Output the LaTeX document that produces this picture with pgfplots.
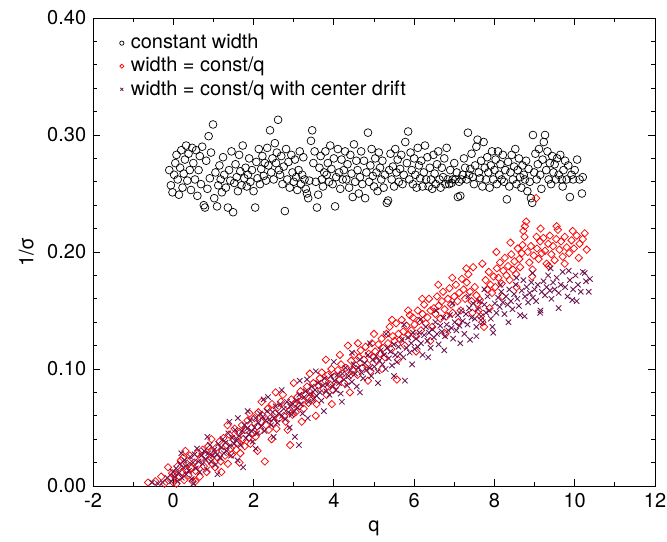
\documentclass[border=0pt]{standalone}
\usepackage{fontspec}
\setmainfont{TeX Gyre Heros}
\usepackage{pgfplots}
\pgfplotsset{compat=1.18}
\definecolor{drift}{rgb}{0.42,0.08,0.32}
\begin{document}
\fontsize{20bp}{24bp}\selectfont
\begin{tikzpicture}
\begin{axis}[
  scale only axis, width=562bp, height=468bp,
  xmin=-2, xmax=12, ymin=0, ymax=0.4,
  xtick={-2,0,2,4,6,8,10,12}, ytick={0,0.1,0.2,0.3,0.4},
  minor x tick num=1, minor y tick num=4,
  tick align=inside, major tick length=7bp, minor tick length=4bp,
  /pgf/number format/assume math mode=true,
  yticklabel style={/pgf/number format/.cd, fixed, fixed zerofill, precision=2},
  tick label style={font=\fontsize{20bp}{24bp}\selectfont},
  label style={font=\fontsize{20bp}{24bp}\selectfont},
  xlabel={q}, ylabel={1/σ},
  axis line style={line width=0.9bp},
  every tick/.style={line width=0.8bp, black},
  legend style={draw=none, fill=none, at={(0.0385,0.974)}, anchor=north west,
    font=\fontsize{20bp}{24bp}\selectfont, row sep=1.5bp},
  legend cell align=left,
  legend image code/.code={\path[draw=none, fill=none] (-4bp,0bp) rectangle (7bp,0bp);
    \draw[#1, only marks, every mark/.append style={scale=0.55}] plot coordinates {(0bp,0bp)};},
]
\addplot[only marks, mark=o, mark size=3.9bp, black, mark options={line width=0.7bp}] coordinates {
(-0.10,0.270) (-0.06,0.257) (-0.02,0.251) (0.02,0.266) (0.05,0.276) (0.08,0.283) (0.11,0.262) (0.14,0.249) (0.17,0.272) (0.20,0.287)
(0.23,0.255) (0.26,0.267) (0.29,0.279) (0.32,0.291) (0.35,0.261) (0.38,0.284) (0.41,0.270) (0.44,0.253) (0.47,0.289) (0.50,0.276)
(0.54,0.262) (0.57,0.287) (0.60,0.248) (0.63,0.270) (0.66,0.282) (0.69,0.258) (0.72,0.290) (0.76,0.240) (0.79,0.238) (0.82,0.278)
(0.85,0.254) (0.88,0.299) (0.91,0.263) (0.94,0.285) (0.99,0.309) (1.02,0.246) (1.05,0.268) (1.09,0.239) (1.12,0.257) (1.15,0.274)
(1.18,0.262) (1.21,0.251) (1.24,0.281) (1.27,0.266) (1.31,0.255) (1.36,0.238) (1.39,0.270) (1.42,0.261) (1.45,0.286) (1.49,0.234)
(1.52,0.259) (1.55,0.275) (1.58,0.264) (1.61,0.252) (1.64,0.283) (1.67,0.269) (1.70,0.257) (1.73,0.291) (1.77,0.263) (1.80,0.272)
(1.83,0.256) (1.86,0.266) (1.89,0.280) (1.92,0.260) (1.96,0.270) (2.00,0.252) (2.04,0.238) (2.07,0.277) (2.10,0.263) (2.13,0.288)
(2.16,0.258) (2.19,0.271) (2.22,0.282) (2.25,0.265) (2.28,0.276) (2.31,0.261) (2.34,0.289) (2.37,0.274) (2.41,0.304) (2.44,0.268)
(2.47,0.280) (2.50,0.262) (2.53,0.293) (2.56,0.276) (2.58,0.285) (2.61,0.313) (2.63,0.270) (2.66,0.266) (2.69,0.282) (2.72,0.258)
(2.75,0.273) (2.78,0.235) (2.81,0.288) (2.84,0.262) (2.87,0.277) (2.90,0.255) (2.94,0.283) (2.97,0.268) (3.00,0.260) (3.03,0.279)
(3.06,0.264) (3.09,0.253) (3.12,0.270) (3.15,0.286) (3.18,0.258) (3.21,0.266) (3.24,0.281) (3.27,0.262) (3.30,0.254) (3.33,0.250)
(3.36,0.246) (3.39,0.261) (3.43,0.295) (3.46,0.304) (3.49,0.276) (3.52,0.286) (3.55,0.260) (3.58,0.238) (3.61,0.249) (3.64,0.272)
(3.67,0.282) (3.70,0.262) (3.73,0.256) (3.76,0.268) (3.79,0.286) (3.82,0.266) (3.85,0.276) (3.88,0.260) (3.91,0.291) (3.94,0.271)
(3.97,0.258) (4.00,0.280) (4.03,0.239) (4.06,0.264) (4.10,0.288) (4.13,0.268) (4.16,0.254) (4.19,0.279) (4.22,0.262) (4.25,0.270)
(4.28,0.286) (4.31,0.262) (4.34,0.275) (4.38,0.255) (4.41,0.283) (4.44,0.267) (4.47,0.247) (4.50,0.292) (4.53,0.260) (4.56,0.278)
(4.59,0.270) (4.62,0.250) (4.65,0.264) (4.68,0.286) (4.71,0.258) (4.75,0.278) (4.78,0.246) (4.81,0.268) (4.85,0.302) (4.88,0.260)
(4.91,0.274) (4.94,0.288) (4.97,0.265) (5.00,0.256) (5.03,0.280) (5.06,0.268) (5.09,0.252) (5.12,0.285) (5.15,0.272) (5.18,0.262)
(5.21,0.278) (5.24,0.255) (5.27,0.266) (5.32,0.242) (5.35,0.244) (5.38,0.270) (5.41,0.284) (5.44,0.262) (5.47,0.273) (5.50,0.256)
(5.53,0.288) (5.56,0.268) (5.59,0.279) (5.62,0.260) (5.65,0.271) (5.68,0.283) (5.71,0.258) (5.74,0.266) (5.78,0.294) (5.82,0.276)
(5.85,0.303) (5.88,0.262) (5.91,0.285) (5.94,0.270) (5.97,0.258) (6.00,0.280) (6.03,0.266) (6.06,0.255) (6.09,0.289) (6.12,0.274)
(6.15,0.263) (6.18,0.278) (6.21,0.256) (6.24,0.268) (6.27,0.291) (6.30,0.262) (6.33,0.281) (6.36,0.256) (6.39,0.272) (6.42,0.262)
(6.45,0.254) (6.48,0.283) (6.51,0.267) (6.54,0.258) (6.57,0.275) (6.60,0.286) (6.63,0.262) (6.66,0.255) (6.69,0.272) (6.72,0.264)
(6.75,0.280) (6.78,0.258) (6.81,0.289) (6.84,0.262) (6.87,0.258) (6.90,0.270) (6.93,0.259) (6.96,0.262) (7.00,0.276) (7.03,0.262)
(7.06,0.268) (7.09,0.247) (7.12,0.260) (7.15,0.248) (7.18,0.262) (7.21,0.266) (7.24,0.280) (7.27,0.272) (7.31,0.262) (7.34,0.302)
(7.37,0.266) (7.40,0.271) (7.43,0.284) (7.46,0.264) (7.49,0.258) (7.52,0.274) (7.55,0.290) (7.58,0.296) (7.61,0.268) (7.64,0.263)
(7.67,0.278) (7.70,0.256) (7.73,0.294) (7.76,0.272) (7.79,0.262) (7.82,0.281) (7.85,0.268) (7.88,0.255) (7.91,0.274) (7.94,0.286)
(7.97,0.262) (8.00,0.270) (8.03,0.279) (8.06,0.258) (8.09,0.286) (8.12,0.266) (8.15,0.275) (8.18,0.262) (8.21,0.283) (8.24,0.260)
(8.27,0.270) (8.31,0.245) (8.34,0.277) (8.37,0.256) (8.40,0.268) (8.43,0.283) (8.46,0.262) (8.49,0.273) (8.52,0.288) (8.55,0.258)
(8.58,0.270) (8.61,0.280) (8.64,0.264) (8.67,0.255) (8.70,0.274) (8.73,0.266) (8.76,0.262) (8.79,0.278) (8.82,0.252) (8.85,0.271)
(8.88,0.260) (8.91,0.246) (8.94,0.242) (8.96,0.300) (8.99,0.268) (9.02,0.284) (9.05,0.262) (9.08,0.275) (9.11,0.288) (9.14,0.266)
(9.17,0.254) (9.20,0.279) (9.23,0.294) (9.26,0.300) (9.29,0.270) (9.32,0.286) (9.35,0.262) (9.38,0.276) (9.41,0.258) (9.44,0.282)
(9.47,0.268) (9.50,0.275) (9.53,0.262) (9.56,0.280) (9.60,0.266) (9.64,0.283) (9.68,0.262) (9.72,0.270) (9.76,0.278) (9.80,0.262)
(9.84,0.274) (9.88,0.247) (9.92,0.266) (9.96,0.262) (10.00,0.270) (10.06,0.279) (10.12,0.262) (10.18,0.250) (10.20,0.264) (9.70,0.256)
};
\addlegendentry{constant width}
\addplot[only marks, mark=square, mark size=2.6bp, red, mark options={rotate=45, line width=0.75bp}] coordinates {
(-0.63,0.003) (-0.45,0.004) (-0.30,0.008) (-0.22,0.002) (-0.13,0.016) (-0.08,0.006) (-0.03,0.011) (0.00,0.003)
(0.04,0.010) (0.08,0.002) (0.11,0.017) (0.15,0.008) (0.19,0.022) (0.22,0.012) (0.24,0.024) (0.27,0.005) (0.31,0.014) (0.34,0.019)
(0.38,0.009) (0.41,0.026) (0.45,0.015) (0.48,0.004) (0.52,0.020) (0.55,0.013) (0.59,0.028) (0.62,0.018) (0.66,0.008) (0.69,0.024)
(0.73,0.031) (0.76,0.017) (0.80,0.026) (0.83,0.012) (0.87,0.034) (0.90,0.022) (0.94,0.029) (0.97,0.019)
(1.01,0.027) (1.04,0.016) (1.08,0.033) (1.11,0.024) (1.15,0.038) (1.18,0.021) (1.22,0.030) (1.25,0.041) (1.29,0.026) (1.32,0.035)
(1.36,0.019) (1.39,0.044) (1.43,0.032) (1.46,0.027) (1.50,0.040) (1.53,0.049) (1.57,0.031) (1.60,0.037) (1.64,0.045) (1.67,0.028)
(1.71,0.052) (1.74,0.040) (1.78,0.034) (1.81,0.048) (1.85,0.056) (1.88,0.041) (1.92,0.036) (1.95,0.050) (1.98,0.045)
(2.02,0.058) (2.05,0.042) (2.09,0.051) (2.12,0.063) (2.16,0.047) (2.19,0.055) (2.23,0.060) (2.28,0.021) (2.31,0.052) (2.35,0.066)
(2.38,0.048) (2.42,0.058) (2.46,0.070) (2.50,0.054) (2.53,0.062) (2.57,0.049) (2.60,0.067) (2.64,0.058) (2.68,0.072) (2.73,0.078)
(2.76,0.060) (2.80,0.055) (2.84,0.069) (2.88,0.064) (2.91,0.035) (2.94,0.074) (2.97,0.061)
(3.01,0.070) (3.05,0.063) (3.09,0.076) (3.13,0.068) (3.17,0.081) (3.21,0.073) (3.25,0.066) (3.29,0.078) (3.33,0.085) (3.37,0.071)
(3.41,0.080) (3.45,0.074) (3.49,0.088) (3.53,0.079) (3.57,0.070) (3.61,0.086) (3.65,0.092) (3.70,0.097) (3.74,0.083) (3.78,0.090)
(3.82,0.078) (3.86,0.095) (3.90,0.087) (3.94,0.100) (3.98,0.082)
(4.02,0.093) (4.06,0.086) (4.10,0.099) (4.14,0.091) (4.18,0.104) (4.22,0.096) (4.26,0.088) (4.30,0.101) (4.35,0.120) (4.39,0.094)
(4.43,0.107) (4.47,0.099) (4.51,0.112) (4.55,0.103) (4.59,0.095) (4.63,0.110) (4.67,0.116) (4.71,0.101) (4.75,0.108) (4.79,0.119)
(4.83,0.104) (4.87,0.113) (4.91,0.098) (4.95,0.122) (4.99,0.110)
(5.03,0.115) (5.07,0.107) (5.11,0.121) (5.15,0.113) (5.19,0.126) (5.23,0.118) (5.27,0.110) (5.31,0.130) (5.35,0.122) (5.39,0.136)
(5.43,0.117) (5.47,0.128) (5.51,0.124) (5.55,0.139) (5.57,0.091) (5.61,0.130) (5.65,0.125) (5.69,0.142) (5.73,0.132) (5.77,0.120)
(5.81,0.137) (5.85,0.129) (5.89,0.146) (5.93,0.133) (5.97,0.144)
(6.01,0.138) (6.05,0.128) (6.09,0.150) (6.13,0.141) (6.17,0.133) (6.21,0.147) (6.25,0.155) (6.29,0.139) (6.33,0.144) (6.37,0.160)
(6.41,0.150) (6.45,0.136) (6.49,0.152) (6.53,0.147) (6.57,0.162) (6.61,0.154) (6.65,0.143) (6.69,0.158) (6.72,0.166) (6.76,0.151)
(6.80,0.145) (6.84,0.160) (6.88,0.169) (6.92,0.155) (6.96,0.148)
(7.00,0.162) (7.04,0.172) (7.08,0.158) (7.12,0.165) (7.16,0.150) (7.19,0.177) (7.23,0.168) (7.27,0.160) (7.31,0.174) (7.35,0.181)
(7.39,0.166) (7.43,0.158) (7.47,0.187) (7.51,0.170) (7.55,0.163) (7.58,0.156) (7.61,0.150) (7.64,0.159) (7.66,0.145) (7.70,0.140)
(7.74,0.136) (7.78,0.176) (7.82,0.168) (7.86,0.183) (7.90,0.172) (7.94,0.165) (7.98,0.179)
(8.02,0.170) (8.06,0.186) (8.10,0.178) (8.14,0.191) (8.18,0.173) (8.22,0.184) (8.26,0.195) (8.30,0.180) (8.34,0.188) (8.38,0.176)
(8.42,0.198) (8.46,0.185) (8.50,0.192) (8.54,0.181) (8.58,0.203) (8.62,0.194) (8.64,0.187) (8.68,0.199) (8.72,0.218) (8.76,0.222)
(8.79,0.226) (8.83,0.200) (8.87,0.191) (8.91,0.205) (8.94,0.179) (8.98,0.197)
(9.04,0.246) (9.06,0.203) (9.10,0.194) (9.14,0.209) (9.18,0.199) (9.22,0.212) (9.26,0.201) (9.30,0.190) (9.34,0.207) (9.38,0.214)
(9.42,0.198) (9.46,0.205) (9.50,0.193) (9.54,0.211) (9.58,0.219) (9.62,0.202) (9.66,0.209) (9.70,0.196) (9.75,0.213) (9.80,0.204)
(9.86,0.199) (9.92,0.210) (9.98,0.203) (10.05,0.214) (10.12,0.207) (10.20,0.211) (10.30,0.202)
(0.30,0.030) (0.55,0.004) (0.95,0.040) (1.20,0.012) (1.35,0.052) (1.65,0.020) (1.90,0.062) (2.10,0.030) (2.20,0.072) (2.45,0.040)
(2.55,0.080) (2.85,0.048) (3.00,0.088) (3.20,0.055) (3.40,0.096) (3.55,0.060) (3.80,0.108) (3.95,0.070) (4.15,0.112) (4.40,0.080)
(4.60,0.122) (4.85,0.090) (5.00,0.130) (5.20,0.100) (5.45,0.142) (5.60,0.108) (5.85,0.150) (6.05,0.115) (6.20,0.160) (6.40,0.124)
(6.60,0.172) (6.78,0.130) (6.95,0.178) (7.10,0.140) (7.30,0.186) (7.45,0.148) (7.70,0.190) (7.88,0.152) (8.05,0.200) (8.20,0.162)
(8.40,0.208) (8.55,0.170) (8.75,0.213) (8.95,0.185) (9.15,0.220) (9.35,0.188) (9.55,0.222) (9.75,0.190) (9.95,0.218) (10.10,0.195)
(10.25,0.216) (9.05,0.213) (8.70,0.206)
};
\addlegendentry{width = const/q}
\addplot[only marks, mark=x, mark size=3.8bp, drift, mark options={line width=0.85bp}] coordinates {
(-0.53,0.003) (-0.38,0.002) (-0.26,0.003) (-0.15,0.007) (-0.05,0.004) (-0.01,0.012)
(0.03,0.008) (0.07,0.015) (0.10,0.004) (0.14,0.011) (0.17,0.019) (0.21,0.007) (0.25,0.016) (0.28,0.022) (0.32,0.010) (0.35,0.018)
(0.39,0.013) (0.42,0.025) (0.46,0.006) (0.49,0.020) (0.53,0.027) (0.56,0.015) (0.59,0.032) (0.63,0.021) (0.66,0.012) (0.70,0.026)
(0.73,0.019) (0.77,0.030) (0.80,0.023) (0.84,0.014) (0.87,0.028) (0.91,0.035) (0.94,0.021) (0.98,0.026)
(1.02,0.031) (1.05,0.018) (1.09,0.027) (1.12,0.036) (1.16,0.024) (1.19,0.033) (1.23,0.040) (1.26,0.028) (1.30,0.037) (1.33,0.030)
(1.37,0.045) (1.40,0.034) (1.44,0.026) (1.47,0.041) (1.51,0.036) (1.54,0.048) (1.58,0.039) (1.61,0.058) (1.64,0.043) (1.68,0.035)
(1.71,0.047) (1.74,0.016) (1.77,0.052) (1.81,0.041) (1.84,0.049) (1.88,0.044) (1.91,0.056) (1.95,0.047) (1.98,0.038)
(2.02,0.050) (2.05,0.058) (2.09,0.045) (2.12,0.054) (2.16,0.062) (2.19,0.051) (2.23,0.059) (2.27,0.047) (2.30,0.056) (2.34,0.064)
(2.36,0.076) (2.40,0.057) (2.44,0.052) (2.48,0.063) (2.51,0.058) (2.55,0.068) (2.59,0.054) (2.63,0.062) (2.67,0.070) (2.71,0.060)
(2.75,0.066) (2.79,0.057) (2.83,0.072) (2.87,0.063) (2.91,0.068) (2.95,0.061) (2.98,0.070) (3.03,0.042) (3.13,0.035)
(3.02,0.064) (3.06,0.073) (3.10,0.067) (3.14,0.078) (3.18,0.070) (3.22,0.062) (3.26,0.076) (3.30,0.081) (3.33,0.091) (3.37,0.072)
(3.41,0.079) (3.45,0.085) (3.49,0.074) (3.53,0.082) (3.57,0.077) (3.61,0.088) (3.65,0.080) (3.69,0.073) (3.73,0.086) (3.77,0.092)
(3.81,0.081) (3.85,0.087) (3.89,0.078) (3.93,0.094) (3.97,0.085)
(4.01,0.090) (4.05,0.082) (4.09,0.095) (4.13,0.088) (4.17,0.079) (4.21,0.096) (4.25,0.091) (4.29,0.101) (4.33,0.086) (4.37,0.094)
(4.41,0.099) (4.45,0.089) (4.49,0.104) (4.53,0.096) (4.57,0.085) (4.61,0.101) (4.65,0.108) (4.69,0.097) (4.73,0.092) (4.77,0.105)
(4.81,0.099) (4.85,0.112) (4.89,0.101) (4.93,0.094) (4.97,0.108)
(5.01,0.102) (5.05,0.111) (5.09,0.098) (5.13,0.107) (5.17,0.116) (5.21,0.104) (5.25,0.112) (5.29,0.100) (5.33,0.118) (5.37,0.109)
(5.41,0.115) (5.45,0.103) (5.49,0.121) (5.53,0.112) (5.57,0.106) (5.61,0.119) (5.65,0.113) (5.69,0.125) (5.73,0.110) (5.77,0.090)
(5.81,0.118) (5.85,0.127) (5.89,0.114) (5.93,0.122) (5.97,0.131)
(6.01,0.117) (6.05,0.126) (6.09,0.119) (6.13,0.131) (6.17,0.122) (6.21,0.112) (6.25,0.129) (6.29,0.136) (6.33,0.124) (6.37,0.131)
(6.41,0.118) (6.45,0.134) (6.49,0.127) (6.53,0.140) (6.57,0.130) (6.61,0.121) (6.65,0.137) (6.69,0.132) (6.73,0.144) (6.77,0.128)
(6.81,0.138) (6.85,0.133) (6.89,0.146) (6.93,0.135) (6.97,0.126)
(7.01,0.140) (7.05,0.133) (7.09,0.146) (7.13,0.137) (7.17,0.150) (7.21,0.141) (7.25,0.130) (7.29,0.147) (7.33,0.138) (7.37,0.152)
(7.39,0.125) (7.43,0.144) (7.47,0.156) (7.51,0.143) (7.55,0.136) (7.59,0.151) (7.63,0.158) (7.67,0.145) (7.71,0.140) (7.75,0.155)
(7.79,0.148) (7.83,0.162) (7.87,0.150) (7.91,0.143) (7.97,0.131)
(8.01,0.156) (8.05,0.148) (8.09,0.161) (8.13,0.153) (8.17,0.166) (8.21,0.157) (8.25,0.147) (8.29,0.162) (8.33,0.155) (8.37,0.168)
(8.41,0.158) (8.45,0.151) (8.49,0.164) (8.53,0.172) (8.57,0.160) (8.61,0.154) (8.64,0.146) (8.68,0.167) (8.72,0.176) (8.76,0.162)
(8.80,0.170) (8.84,0.157) (8.88,0.165) (8.92,0.174) (8.96,0.161)
(9.00,0.168) (9.04,0.158) (9.08,0.172) (9.14,0.148) (9.18,0.166) (9.22,0.175) (9.26,0.163) (9.30,0.170) (9.34,0.180) (9.38,0.167)
(9.42,0.160) (9.46,0.174) (9.50,0.168) (9.55,0.178) (9.60,0.165) (9.65,0.172) (9.70,0.183) (9.76,0.170) (9.82,0.162) (9.88,0.176)
(9.94,0.159) (9.96,0.168) (10.02,0.180) (10.08,0.172) (10.15,0.166) (10.20,0.183) (10.28,0.175) (10.38,0.177)
(0.20,0.028) (0.50,0.002) (0.85,0.042) (1.10,0.010) (1.40,0.055) (1.60,0.022) (1.85,0.064) (2.05,0.032) (2.25,0.074) (2.50,0.042)
(2.70,0.082) (2.90,0.050) (3.15,0.090) (3.35,0.058) (3.55,0.098) (3.75,0.064) (4.00,0.106) (4.20,0.072) (4.45,0.114) (4.65,0.080)
(4.90,0.122) (5.10,0.088) (5.30,0.130) (5.50,0.094) (5.75,0.138) (5.95,0.104) (6.15,0.142) (6.35,0.110) (6.55,0.150) (6.75,0.116)
(6.95,0.156) (7.15,0.122) (7.35,0.162) (7.55,0.128) (7.75,0.168) (7.95,0.136) (8.15,0.172) (8.35,0.140) (8.55,0.178) (8.75,0.145)
(8.95,0.182) (9.15,0.150) (9.40,0.186) (9.60,0.152) (9.85,0.184) (10.05,0.158) (10.25,0.182) (10.35,0.166)
};
\addlegendentry{width = const/q with center drift}
\end{axis}
\pgfresetboundingbox
\path (-93bp,-56bp) rectangle (574bp,486bp);
\end{tikzpicture}
\end{document}
